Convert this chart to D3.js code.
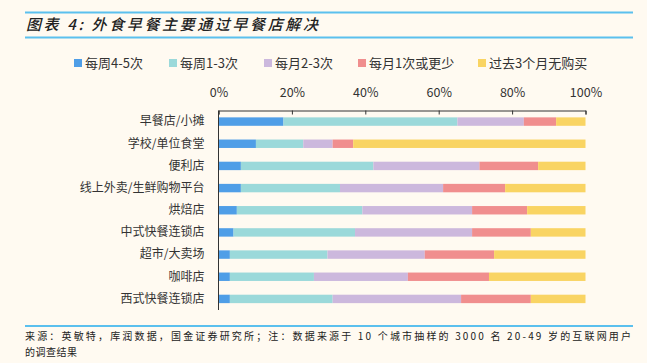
<!DOCTYPE html>
<html>
<head>
<meta charset="utf-8">
<script src="https://cdn.jsdelivr.net/npm/d3@7"></script>
<style>
  body { margin: 0; background: #fffaf1; }
  svg { display: block; }
</style>
</head>
<body>
<svg id="chart" width="647" height="363"></svg>
<script>
// categories and series (percent of respondents)
const categories = ["早餐店/小摊", "学校/单位食堂", "便利店", "线上外卖/生鲜购物平台", "烘焙店",
  "中式快餐连锁店", "超市/大卖场", "咖啡店", "西式快餐连锁店"];
const seriesNames = ["每周4-5次", "每周1-3次", "每月2-3次", "每月1次或更少", "过去3个月无购买"];
const weekly45 = [17.7, 10.2, 6.1, 6.1, 5.0, 4.1, 3.1, 3.1, 3.1];
const weekly13 = [47.4, 12.9, 36.1, 27.0, 34.2, 33.1, 26.6, 22.9, 28.0];
const monthly23 = [18.1, 8.0, 28.9, 28.1, 29.9, 31.9, 26.5, 25.6, 35.0];
const monthly1 = [8.8, 5.6, 16.0, 16.9, 15.0, 16.0, 18.9, 22.1, 19.0];
const noBuy = [8.0, 63.3, 12.9, 21.9, 15.9, 14.9, 24.9, 26.3, 14.9];
const tickValues = [0, 0.2, 0.4, 0.6, 0.8, 1.0];
const colors = ["#4f9ee7", "#9bd9da", "#ccb8dd", "#f08e8e", "#f9d463"];

const svg = d3.select("#chart");
const fontCJK = "'Noto Sans CJK SC', 'Noto Sans', sans-serif";

// title block
svg.append("line").attr("x1", 25).attr("x2", 633).attr("y1", 12.5).attr("y2", 12.5)
  .attr("stroke", "#5bc0ee").attr("stroke-width", 2);
svg.append("line").attr("x1", 25).attr("x2", 633).attr("y1", 37.5).attr("y2", 37.5)
  .attr("stroke", "#5bc0ee").attr("stroke-width", 2);
svg.append("text").attr("x", 26).attr("y", 30)
  .attr("textLength", 292).attr("lengthAdjust", "spacing")
  .style("font-family", fontCJK).style("font-size", "15px").style("font-style", "italic")
  .style("font-weight", "500").attr("fill", "#222")
  .text("图表 4:  外食早餐主要通过早餐店解决");

// legend
const legendX = [74, 169, 264, 358, 478];
const legend = svg.append("g").selectAll("g").data(seriesNames).enter().append("g")
  .attr("transform", (d, i) => `translate(${legendX[i]},63)`);
legend.append("rect").attr("x", 0).attr("y", -4).attr("width", 8).attr("height", 8)
  .attr("fill", (d, i) => colors[i]);
legend.append("text").attr("x", 11).attr("y", 0).attr("dy", "0.36em")
  .style("font-family", fontCJK).style("font-size", "13px").attr("fill", "#333")
  .text(d => d);

// scales
const x = d3.scaleLinear().domain([0, 1]).range([218.5, 585.5]);
const y = d3.scaleBand().domain(categories).range([110.5, 310]).paddingInner(0.62).paddingOuter(0.31);

const rows = categories.map((c, i) => {
  const vals = [weekly45[i], weekly13[i], monthly23[i], monthly1[i], noBuy[i]];
  const total = d3.sum(vals);
  const o = { cat: c };
  seriesNames.forEach((s, j) => { o[s] = vals[j] / total; });
  return o;
});
const stacked = d3.stack().keys(seriesNames)(rows);

svg.append("g").selectAll("g").data(stacked).enter().append("g")
  .attr("fill", (d, i) => colors[i])
  .selectAll("rect").data(d => d).enter().append("rect")
  .attr("x", d => x(d[0]))
  .attr("width", d => x(d[1]) - x(d[0]))
  .attr("y", d => y(d.data.cat))
  .attr("height", y.bandwidth());

// top axis
const xAxis = svg.append("g").attr("transform", "translate(0,110.5)")
  .call(d3.axisTop(x).tickValues(tickValues).tickFormat(d3.format(".0%")).tickSize(-4).tickPadding(14));
xAxis.select(".domain").attr("stroke", "#333");
xAxis.selectAll(".tick line").attr("stroke", "#333");
xAxis.selectAll("text").style("font-family", fontCJK).style("font-size", "12.5px").attr("fill", "#333");

// left axis
const yAxis = svg.append("g").attr("transform", "translate(218.5,0)")
  .call(d3.axisLeft(y).tickSize(0).tickPadding(14));
yAxis.select(".domain").attr("stroke", "#333").attr("d", "M0,110.5V310");
yAxis.selectAll("text").style("font-family", fontCJK).style("font-size", "12px").attr("fill", "#333");

// footer
svg.append("line").attr("x1", 25).attr("x2", 633).attr("y1", 326).attr("y2", 326)
  .attr("stroke", "#5bc0ee").attr("stroke-width", 2);
svg.append("text").attr("x", 25).attr("y", 340)
  .attr("textLength", 606).attr("lengthAdjust", "spacing")
  .style("font-family", fontCJK).style("font-size", "10px").attr("fill", "#222")
  .text("来源：英敏特，库润数据，国金证券研究所；注：数据来源于 10 个城市抽样的 3000 名 20-49 岁的互联网用户");
svg.append("text").attr("x", 25).attr("y", 356)
  .attr("textLength", 52).attr("lengthAdjust", "spacing")
  .style("font-family", fontCJK).style("font-size", "10px").attr("fill", "#222")
  .text("的调查结果");
</script>
</body>
</html>
